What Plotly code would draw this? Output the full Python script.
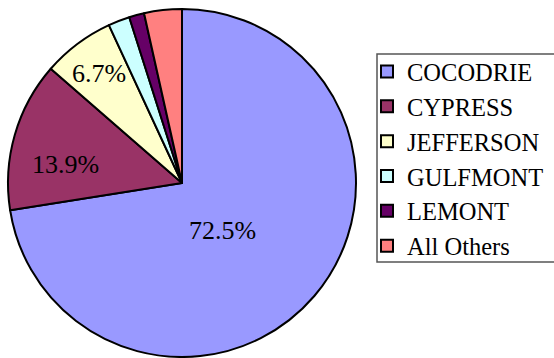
import math
import plotly.graph_objects as go

# Share of acreage by variety
varieties = ["COCODRIE", "CYPRESS", "JEFFERSON", "GULFMONT", "LEMONT", "All Others"]
shares = [72.5, 13.9, 6.7, 2.0, 1.4, 3.5]
slice_labels = ["72.5%", "13.9%", "6.7%", "", "", ""]
colors = ["#9999FF", "#993366", "#FFFFCC", "#CCFFFF", "#660066", "#FF8080"]

W, H = 554, 358
SERIF = "Liberation Serif, Times New Roman, serif"

# pie geometry in pixels
CX, CY, R = 182, 183, 174
# label placement: fraction of radius, and angular nudge from the slice mid-angle (deg)
LABEL_RADIUS = [0.36, 0.68, 0.79, 0, 0, 0]
LABEL_NUDGE = [9.0, -7.0, 0.0, 0, 0, 0]

fig = go.Figure(
    go.Pie(
        labels=varieties,
        values=shares,
        textinfo="none",
        marker=dict(colors=colors, line=dict(color="black", width=2)),
        sort=False,
        direction="clockwise",
        rotation=0,
        hoverinfo="label+percent",
        domain=dict(x=[(CX - R) / W, (CX + R) / W], y=[1 - (CY + R) / H, 1 - (CY - R) / H]),
    )
)

# percentage labels placed along each slice's mid-angle
total = sum(shares)
annotations = []
cum = 0.0
for val, txt, rf, nudge in zip(shares, slice_labels, LABEL_RADIUS, LABEL_NUDGE):
    mid = (cum + val / 2) / total * 2 * math.pi + math.radians(nudge)  # clockwise from 12 o'clock
    cum += val
    if not txt:
        continue
    px = CX + rf * R * math.sin(mid)
    py = CY - rf * R * math.cos(mid)
    annotations.append(
        dict(
            x=px / W,
            y=1 - py / H,
            xref="paper",
            yref="paper",
            text=txt,
            showarrow=False,
            font=dict(family=SERIF, size=26, color="black"),
            xanchor="center",
            yanchor="middle",
        )
    )

fig.update_layout(
    width=W,
    height=H,
    margin=dict(l=0, r=0, t=0, b=0),
    paper_bgcolor="white",
    plot_bgcolor="white",
    font=dict(family=SERIF, color="black"),
    annotations=annotations,
    showlegend=True,
    legend=dict(
        x=367 / W,
        y=1 - 49 / H,
        xanchor="left",
        yanchor="top",
        font=dict(family=SERIF, size=24.5, color="black"),
        borderwidth=0,
        bgcolor="rgba(0,0,0,0)",
    ),
    shapes=[
        dict(
            type="rect",
            xref="paper",
            yref="paper",
            x0=377 / W,
            x1=1.02,
            y0=1 - 262 / H,
            y1=1 - 54 / H,
            line=dict(color="#555555", width=1.5),
            fillcolor="rgba(0,0,0,0)",
            layer="below",
        )
    ],
)

fig.write_html("out.html")
